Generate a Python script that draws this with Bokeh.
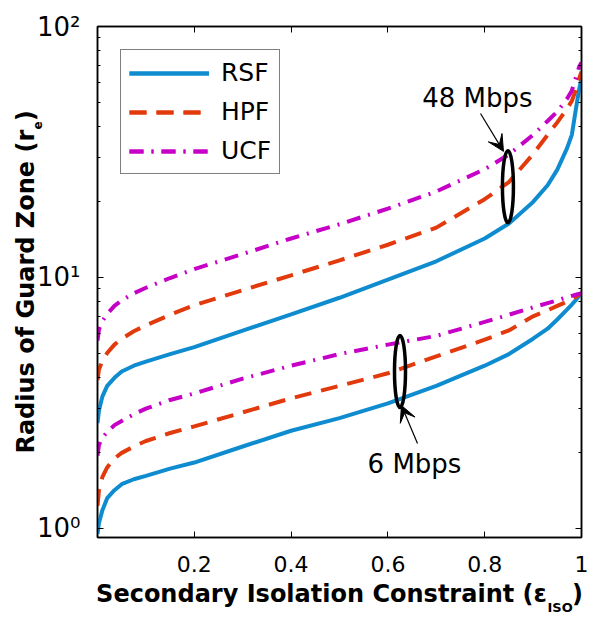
from bokeh.plotting import figure
from bokeh.models import (Range1d, FixedTicker, LogAxis, LinearAxis, Label, Arrow,
                          VeeHead, CustomJSTickFormatter, Title)
from bokeh.embed import file_html
from bokeh.resources import INLINE

# ---------------- data ----------------
eps = [0, 0.003, 0.01, 0.02, 0.035, 0.05, 0.075, 0.1, 0.15, 0.2, 0.3, 0.4, 0.5,
       0.6, 0.7, 0.8, 0.85, 0.9, 0.93, 0.95, 0.97, 0.98, 0.99, 0.995, 1.0]

# 48 Mbps group
rsf_48 = [2.63, 2.95, 3.35, 3.7, 3.98, 4.22, 4.45, 4.62, 4.95, 5.28, 6.14, 7.13,
          8.3, 9.8, 11.6, 14.3, 16.4, 20.0, 23.3, 26.9, 32.7, 37.0, 49.0, 56.0,
          62.0]
hpf_48 = [3.9, 4.3, 4.65, 5.0, 5.4, 5.7, 6.1, 6.45, 7.1, 7.75, 8.9, 10.2, 11.7,
          13.5, 15.8, 20.5, 24.0, 31.0, 37.0, 41.5, 47.0, 50.5, 57.0, 62.0, 66.0]
ucf_48 = [5.6, 6.2, 6.7, 7.15, 7.7, 8.1, 8.65, 9.1, 9.95, 10.8, 12.4, 14.3, 16.3,
          18.8, 22.0, 27.0, 30.9, 37.0, 42.0, 45.8, 51.5, 55.5, 64.0, 69.0, 72.0]

# 6 Mbps group
rsf_6 = [0.95, 1.05, 1.18, 1.32, 1.42, 1.5, 1.57, 1.62, 1.73, 1.83, 2.12, 2.45,
         2.75, 3.15, 3.7, 4.45, 4.95, 5.7, 6.25, 6.8, 7.45, 7.8, 8.2, 8.45, 8.65]
hpf_6 = [1.23, 1.42, 1.6, 1.75, 1.9, 2.0, 2.12, 2.23, 2.4, 2.55, 2.9, 3.3, 3.7,
         4.15, 4.85, 5.65, 6.15, 7.0, 7.4, 7.7, 8.0, 8.2, 8.4, 8.55, 8.65]
ucf_6 = [1.95, 2.15, 2.3, 2.42, 2.58, 2.68, 2.85, 3.0, 3.25, 3.45, 3.95, 4.45,
         4.95, 5.4, 5.85, 6.65, 7.1, 7.6, 7.9, 8.1, 8.35, 8.45, 8.55, 8.6, 8.65]

x_ticks = [0.2, 0.4, 0.6, 0.8, 1.0]
x_tick_labels = {1.0: "1"}
y_ticks = [1, 10, 100]
y_tick_labels = {1: "10\u2070", 10: "10\u00b9", 100: "10\u00b2"}
y_minor = [2, 3, 4, 5, 6, 7, 8, 9, 20, 30, 40, 50, 60, 70, 80, 90]

# axis titles: main text with a gap (non-breaking spaces) left for the subscript
x_title = "Secondary Isolation Constraint (\u03b5\u00a0\u00a0\u00a0)"
x_sub = "ISO"
y_title = "Radius of Guard Zone (r\u00a0)"
y_sub = "e"

# annotation anchors (data coordinates)
ell_48 = (0.848, 23.0)
ell_6 = (0.625, 4.22)
arrow_48 = (0.7913, 45.0, 0.8388, 31.8)
arrow_6 = (0.6612, 2.18, 0.628, 3.09)
text_48 = (0.671, 51.7, "48 Mbps")
text_6 = (0.558, 1.80, "6 Mbps")

BLUE = "#0f8ccf"
RED = "#e23a0c"
MAG = "#c600c6"
FONT = "DejaVu Sans"

p = figure(width=592, height=624, output_backend="svg", toolbar_location=None,
           y_axis_type="log", x_range=Range1d(0, 1), y_range=Range1d(0.92, 100),
           min_border_left=97, min_border_right=11, min_border_top=26,
           min_border_bottom=87)
p.grid.visible = False
p.outline_line_color = "black"
p.outline_line_width = 1.5
p.background_fill_color = "white"
p.border_fill_color = "white"

# curves
for ys in (rsf_48, rsf_6):
    p.line(eps, ys, line_color=BLUE, line_width=4, legend_label="RSF")
for ys in (hpf_48, hpf_6):
    p.line(eps, ys, line_color=RED, line_width=4, line_dash="17 10",
           legend_label="HPF")
for ys in (ucf_48, ucf_6):
    p.line(eps, ys, line_color=MAG, line_width=4, line_dash="14 8 2 8",
           legend_label="UCF")

# ellipses and annotations
p.ellipse(x=[ell_48[0], ell_6[0]], y=[ell_48[1], ell_6[1]], width=11, height=72,
          width_units="screen", height_units="screen", fill_color=None,
          line_color="black", line_width=3.5)
for (xs, ys, xe, ye) in (arrow_48, arrow_6):
    p.add_layout(Arrow(x_start=xs, y_start=ys, x_end=xe, y_end=ye,
                       line_color="black", line_width=1.2,
                       end=VeeHead(size=16, fill_color="black",
                                   line_color="black", line_width=1)))
for (tx, ty, tt) in (text_48, text_6):
    p.add_layout(Label(x=tx, y=ty, text=tt, text_font=FONT,
                       text_font_size="26px", text_align="left",
                       text_baseline="alphabetic", text_color="black"))

# axes
xa = p.xaxis[0]
xa.ticker = FixedTicker(ticks=x_ticks)
xa.major_label_overrides = x_tick_labels
xa.major_tick_in = 6
xa.major_tick_out = 0
xa.minor_tick_line_color = None
xa.major_label_text_font = FONT
xa.major_label_text_font_size = "22px"
xa.major_label_text_color = "black"
xa.major_label_standoff = 18
xa.axis_line_width = 1.5
xa.axis_label = x_title
xa.axis_label_text_font = FONT
xa.axis_label_text_font_style = "bold"
xa.axis_label_text_font_size = "24px"
xa.axis_label_text_color = "black"
xa.axis_label_standoff = 5

ya = p.yaxis[0]
ya.ticker = FixedTicker(ticks=y_ticks, minor_ticks=y_minor)
ya.major_label_overrides = y_tick_labels
ya.major_tick_in = 6
ya.major_tick_out = 0
ya.minor_tick_in = 3
ya.minor_tick_out = 0
ya.major_label_text_font = FONT
ya.major_label_text_font_size = "26px"
ya.major_label_text_color = "black"
ya.major_label_standoff = 17
ya.axis_line_width = 1.5
ya.axis_label = y_title
ya.axis_label_text_font = FONT
ya.axis_label_text_font_style = "bold"
ya.axis_label_text_font_size = "24px"
ya.axis_label_text_color = "black"
ya.axis_label_standoff = -6

blank = CustomJSTickFormatter(code="return ''")
top = LinearAxis(ticker=FixedTicker(ticks=x_ticks), formatter=blank,
                 major_tick_in=6, major_tick_out=0, minor_tick_line_color=None,
                 major_label_standoff=0, major_label_text_font_size="1px",
                 axis_line_width=1.5)
p.add_layout(top, "above")
right = LogAxis(ticker=FixedTicker(ticks=y_ticks, minor_ticks=y_minor),
                formatter=blank, major_tick_in=6, major_tick_out=0,
                minor_tick_in=3, minor_tick_out=0, major_label_standoff=0,
                major_label_text_font_size="1px", axis_line_width=1.5)
p.add_layout(right, "right")

# subscripts as side-panel titles (not clipped to the frame)
p.add_layout(Title(text=x_sub, align="left", offset=450, vertical_align="top",
                   standoff=-22, text_font=FONT, text_font_style="bold",
                   text_font_size="13px", text_color="black"), "below")
p.add_layout(Title(text=y_sub, align="left", offset=408, vertical_align="bottom",
                   standoff=-66, text_font=FONT, text_font_style="bold",
                   text_font_size="12px", text_color="black"), "left")

# legend
lg = p.legend[0]
lg.location = "top_left"
lg.margin = 23
lg.padding = 8
lg.spacing = 10
lg.label_height = 28
lg.glyph_height = 28
lg.glyph_width = 80
lg.label_standoff = 12
lg.label_text_font = FONT
lg.label_text_font_size = "25px"
lg.label_text_color = "black"
lg.border_line_color = "black"
lg.border_line_width = 1.5
lg.background_fill_alpha = 1.0

open("out.html", "w").write(file_html(p, INLINE))
